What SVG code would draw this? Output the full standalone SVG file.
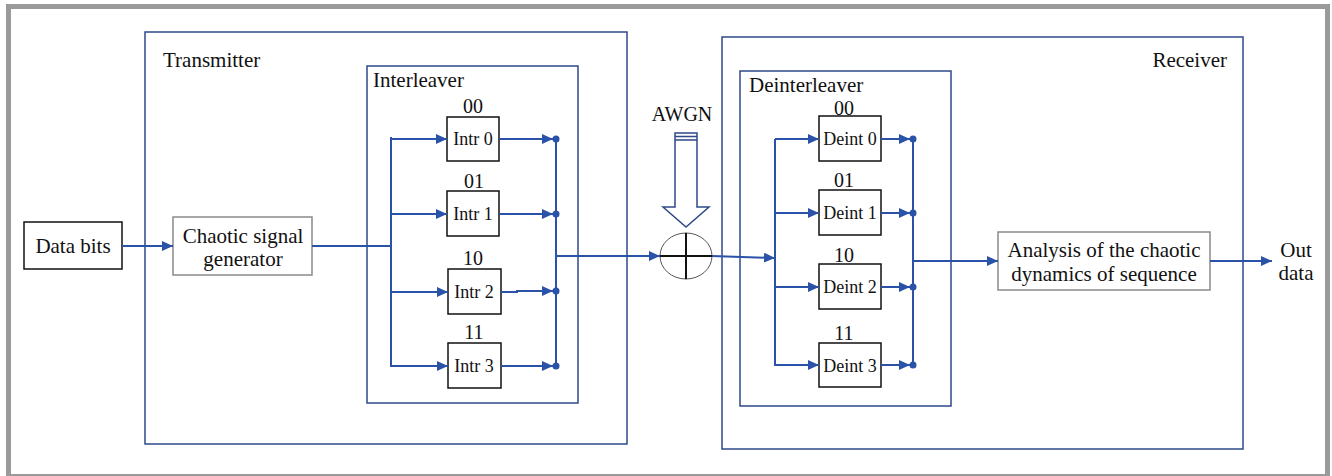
<svg xmlns="http://www.w3.org/2000/svg" width="1332" height="476" viewBox="0 0 1332 476">
<defs>
<marker id="ah" markerWidth="12" markerHeight="10" refX="11" refY="5" orient="auto" markerUnits="userSpaceOnUse">
<path d="M0,0 L11,5 L0,10 Z" fill="#2A52A8"/>
</marker>
<style>
text{font-family:"Liberation Serif","Times New Roman",serif;fill:#111}
.t21{font-size:21px}
.t20{font-size:20px}
.t18{font-size:18px}
.frame{fill:none;stroke:#2E4A8A;stroke-width:1.5}
.blk{fill:#fff;stroke:#111;stroke-width:1.5}
.gry{fill:#fff;stroke:#8a8a8a;stroke-width:1.5}
.ln{fill:none;stroke:#2A52A8;stroke-width:2}
.arr{fill:none;stroke:#2A52A8;stroke-width:2;marker-end:url(#ah)}
.dot{fill:#2A52A8}
</style>
</defs>
<rect x="0" y="0" width="1332" height="476" fill="#fff"/>
<rect x="8.5" y="6.5" width="1319" height="470" fill="none" stroke="#9a9a9a" stroke-width="5"/>

<g id="transmitter">
<rect class="frame" x="145" y="32" width="482" height="412"/>
<text class="t21" x="163" y="67">Transmitter</text>
</g>
<g id="interleaver">
<rect class="frame" x="367" y="66" width="211" height="337"/>
<text class="t21" x="373" y="87">Interleaver</text>
</g>
<g id="receiver">
<rect class="frame" x="722" y="37" width="521" height="412"/>
<text class="t21" x="1227" y="67" text-anchor="end">Receiver</text>
</g>
<g id="deinterleaver">
<rect class="frame" x="740" y="71" width="211" height="335"/>
<text class="t21" x="749" y="92">Deinterleaver</text>
</g>

<g id="data-bits">
<rect class="blk" x="24" y="222" width="98" height="47"/>
<text class="t21" x="73" y="253" text-anchor="middle">Data bits</text>
</g>
<g id="chaotic-generator">
<rect class="gry" x="173" y="217" width="139" height="58"/>
<text class="t21" x="243" y="243" text-anchor="middle">Chaotic signal</text>
<text class="t21" x="243" y="266" text-anchor="middle">generator</text>
</g>

<g id="intr0">
<text class="t20" x="473" y="113" text-anchor="middle">00</text>
<rect class="blk" x="447" y="117" width="52" height="44"/>
<text class="t18" x="473" y="145" text-anchor="middle">Intr 0</text>
</g>
<g id="intr1">
<text class="t20" x="474" y="188" text-anchor="middle">01</text>
<rect class="blk" x="447" y="191" width="52" height="45"/>
<text class="t18" x="473" y="220" text-anchor="middle">Intr 1</text>
</g>
<g id="intr2">
<text class="t20" x="473" y="265" text-anchor="middle">10</text>
<rect class="blk" x="448" y="269" width="53" height="45"/>
<text class="t18" x="474" y="298" text-anchor="middle">Intr 2</text>
</g>
<g id="intr3">
<text class="t20" x="474" y="339" text-anchor="middle">11</text>
<rect class="blk" x="448" y="343" width="53" height="45"/>
<text class="t18" x="474" y="372" text-anchor="middle">Intr 3</text>
</g>

<g id="awgn">
<text class="t20" x="682" y="121" text-anchor="middle">AWGN</text>
<path d="M675,133 L697,133 L697,207 L709,207 L686,227 L663,207 L675,207 Z" fill="#fff" stroke="#2E4A8A" stroke-width="1.5"/>
<line x1="675" y1="136.5" x2="697" y2="136.5" stroke="#2E4A8A" stroke-width="1.5"/>
<line x1="675" y1="140" x2="697" y2="140" stroke="#2E4A8A" stroke-width="1.5"/>
</g>
<g id="adder">
<ellipse cx="686" cy="256" rx="26" ry="23" fill="#fff" stroke="#555" stroke-width="1"/>
<line x1="660" y1="256" x2="712" y2="256" stroke="#111" stroke-width="2"/>
<line x1="686" y1="233" x2="686" y2="279" stroke="#111" stroke-width="2"/>
</g>

<g id="deint0">
<text class="t20" x="844" y="114.5" text-anchor="middle">00</text>
<rect class="blk" x="819" y="116" width="62" height="45"/>
<text class="t18" x="850" y="145" text-anchor="middle">Deint 0</text>
</g>
<g id="deint1">
<text class="t20" x="844" y="187" text-anchor="middle">01</text>
<rect class="blk" x="819" y="190" width="62" height="45"/>
<text class="t18" x="850" y="219" text-anchor="middle">Deint 1</text>
</g>
<g id="deint2">
<text class="t20" x="844" y="262" text-anchor="middle">10</text>
<rect class="blk" x="819" y="264" width="62" height="45"/>
<text class="t18" x="850" y="293" text-anchor="middle">Deint 2</text>
</g>
<g id="deint3">
<text class="t20" x="844" y="340" text-anchor="middle">11</text>
<rect class="blk" x="819" y="343" width="62" height="44"/>
<text class="t18" x="850" y="372" text-anchor="middle">Deint 3</text>
</g>

<g id="analysis">
<rect class="gry" x="998" y="232" width="212" height="58"/>
<text class="t21" x="1104" y="257" text-anchor="middle">Analysis of the chaotic</text>
<text class="t21" x="1104" y="281" text-anchor="middle">dynamics of sequence</text>
</g>
<g id="out-data">
<text class="t21" x="1296" y="257" text-anchor="middle">Out</text>
<text class="t21" x="1296" y="280" text-anchor="middle">data</text>
</g>

<g id="connectors">
<line class="arr" x1="122" y1="246" x2="173" y2="246"/>
<line class="ln" x1="312" y1="246" x2="391" y2="246"/>
<line class="ln" x1="391" y1="137" x2="391" y2="367"/>
<line class="arr" x1="391" y1="139" x2="447" y2="139"/>
<line class="arr" x1="391" y1="214" x2="447" y2="214"/>
<line class="arr" x1="391" y1="292" x2="448" y2="292"/>
<line class="arr" x1="391" y1="366" x2="448" y2="366"/>
<line class="arr" x1="499" y1="139" x2="553" y2="139"/>
<line class="arr" x1="499" y1="214" x2="553" y2="214"/>
<polyline class="arr" points="501,292 517,292 517,291 553,291"/>
<line class="arr" x1="501" y1="366" x2="553" y2="366"/>
<line class="ln" x1="556" y1="139" x2="556" y2="366"/>
<circle class="dot" cx="556" cy="139" r="3.5"/>
<circle class="dot" cx="556" cy="214" r="3.5"/>
<circle class="dot" cx="556" cy="291" r="3.5"/>
<circle class="dot" cx="556" cy="366" r="3.5"/>
<line class="arr" x1="556" y1="256" x2="660" y2="256"/>
<line class="arr" x1="712" y1="256" x2="775" y2="258"/>
<line class="ln" x1="775" y1="139" x2="775" y2="366"/>
<line class="arr" x1="775" y1="139" x2="819" y2="139"/>
<line class="arr" x1="775" y1="213" x2="819" y2="213"/>
<line class="arr" x1="775" y1="287" x2="819" y2="287"/>
<line class="arr" x1="775" y1="365" x2="819" y2="365"/>
<line class="arr" x1="881" y1="139" x2="910" y2="139"/>
<line class="arr" x1="881" y1="213" x2="910" y2="213"/>
<line class="arr" x1="881" y1="287" x2="910" y2="287"/>
<line class="arr" x1="881" y1="365" x2="910" y2="365"/>
<line class="ln" x1="913" y1="139" x2="913" y2="365"/>
<circle class="dot" cx="913" cy="139" r="3.5"/>
<circle class="dot" cx="913" cy="213" r="3.5"/>
<circle class="dot" cx="913" cy="287" r="3.5"/>
<circle class="dot" cx="913" cy="365" r="3.5"/>
<line class="arr" x1="913" y1="261" x2="998" y2="261"/>
<line class="arr" x1="1210" y1="261" x2="1272" y2="261"/>
</g>
</svg>
